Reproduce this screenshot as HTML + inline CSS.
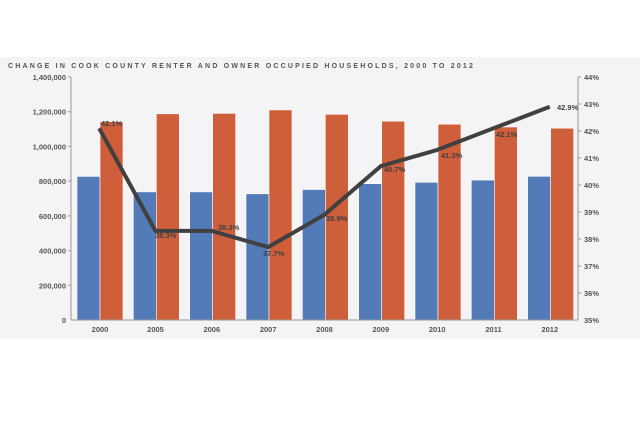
<!DOCTYPE html>
<html><head><meta charset="utf-8"><style>
html,body{margin:0;padding:0;background:#fff;}
svg{display:block;font-family:"Liberation Sans",sans-serif;}
</style></head><body>
<svg width="640" height="427" xmlns="http://www.w3.org/2000/svg">
<rect x="0" y="57" width="640" height="282" fill="#f4f4f6"/>
<text x="8" y="68" font-size="7" font-weight="bold" fill="#555" letter-spacing="2.2">CHANGE IN COOK COUNTY RENTER AND OWNER OCCUPIED HOUSEHOLDS, 2000 TO 2012</text>
<g stroke="#fff" stroke-width="0.6">
<rect x="77" y="176.4" width="23" height="143.6" fill="#527bb8"/><rect x="100" y="121.7" width="23" height="198.3" fill="#cf5f3a"/>
<rect x="133.33" y="191.9" width="23" height="128.1" fill="#527bb8"/><rect x="156.33" y="113.8" width="23" height="206.2" fill="#cf5f3a"/>
<rect x="189.67" y="191.9" width="23" height="128.1" fill="#527bb8"/><rect x="212.67" y="113.4" width="23" height="206.6" fill="#cf5f3a"/>
<rect x="246" y="193.8" width="23" height="126.2" fill="#527bb8"/><rect x="269" y="109.9" width="23" height="210.1" fill="#cf5f3a"/>
<rect x="302.33" y="189.5" width="23" height="130.5" fill="#527bb8"/><rect x="325.33" y="114.3" width="23" height="205.7" fill="#cf5f3a"/>
<rect x="358.67" y="183.7" width="23" height="136.3" fill="#527bb8"/><rect x="381.67" y="121.2" width="23" height="198.8" fill="#cf5f3a"/>
<rect x="415" y="182.3" width="23" height="137.7" fill="#527bb8"/><rect x="438" y="124.2" width="23" height="195.8" fill="#cf5f3a"/>
<rect x="471.33" y="180.1" width="23" height="139.9" fill="#527bb8"/><rect x="494.33" y="127" width="23" height="193" fill="#cf5f3a"/>
<rect x="527.67" y="176.3" width="23" height="143.7" fill="#527bb8"/><rect x="550.67" y="128.2" width="23" height="191.8" fill="#cf5f3a"/>
</g>
<line x1="71" y1="77" x2="71" y2="320" stroke="#999" stroke-width="1"/>
<line x1="578" y1="77" x2="578" y2="320" stroke="#999" stroke-width="1"/>
<line x1="71" y1="320" x2="578" y2="320" stroke="#999" stroke-width="1"/>
<g font-size="7.5" fill="#555" font-weight="bold">
<text x="66" y="80" text-anchor="end">1,400,000</text>
<text x="66" y="114.7" text-anchor="end">1,200,000</text>
<text x="66" y="149.4" text-anchor="end">1,000,000</text>
<text x="66" y="184.1" text-anchor="end">800,000</text>
<text x="66" y="218.9" text-anchor="end">600,000</text>
<text x="66" y="253.6" text-anchor="end">400,000</text>
<text x="66" y="288.3" text-anchor="end">200,000</text>
<text x="66" y="323" text-anchor="end">0</text>
<text x="584" y="80">44%</text><text x="584" y="107">43%</text><text x="584" y="134">42%</text>
<text x="584" y="161">41%</text><text x="584" y="188">40%</text><text x="584" y="215">39%</text>
<text x="584" y="242">38%</text><text x="584" y="269">37%</text><text x="584" y="296">36%</text>
<text x="584" y="323">35%</text>
</g>
<g stroke="#999" stroke-width="1">
<line x1="68" y1="77" x2="71" y2="77"/><line x1="68" y1="111.7" x2="71" y2="111.7"/><line x1="68" y1="146.4" x2="71" y2="146.4"/><line x1="68" y1="181.1" x2="71" y2="181.1"/><line x1="68" y1="215.9" x2="71" y2="215.9"/><line x1="68" y1="250.6" x2="71" y2="250.6"/><line x1="68" y1="285.3" x2="71" y2="285.3"/>
<line x1="578" y1="77" x2="581" y2="77"/><line x1="578" y1="104" x2="581" y2="104"/><line x1="578" y1="131" x2="581" y2="131"/><line x1="578" y1="158" x2="581" y2="158"/><line x1="578" y1="185" x2="581" y2="185"/><line x1="578" y1="212" x2="581" y2="212"/><line x1="578" y1="239" x2="581" y2="239"/><line x1="578" y1="266" x2="581" y2="266"/><line x1="578" y1="293" x2="581" y2="293"/>
</g>
<g font-size="7.5" fill="#555" font-weight="bold" text-anchor="middle">
<text x="100" y="332">2000</text><text x="155.5" y="332">2005</text><text x="211.8" y="332">2006</text><text x="268.2" y="332">2007</text><text x="324.5" y="332">2008</text><text x="380.8" y="332">2009</text><text x="437.2" y="332">2010</text><text x="493.5" y="332">2011</text><text x="549.8" y="332">2012</text>
</g>
<polyline fill="none" stroke="#404040" stroke-width="4" stroke-linejoin="round" points="99.2,128.3 155.5,230.9 211.8,230.9 268.2,247.1 324.5,214.7 380.8,166.1 437.2,149.9 493.5,128.3 549.8,106.7"/>
<g font-size="7.5" fill="#404040" font-weight="bold">
<text x="101" y="126">42.1%</text><text x="155" y="238">38.3%</text><text x="218" y="230">38.3%</text>
<text x="263" y="256">37.7%</text><text x="326" y="221">38.9%</text><text x="384" y="172">40.7%</text>
<text x="441" y="158">41.3%</text><text x="496" y="137">42.1%</text><text x="557" y="110">42.9%</text>
</g>
</svg>
</body></html>
